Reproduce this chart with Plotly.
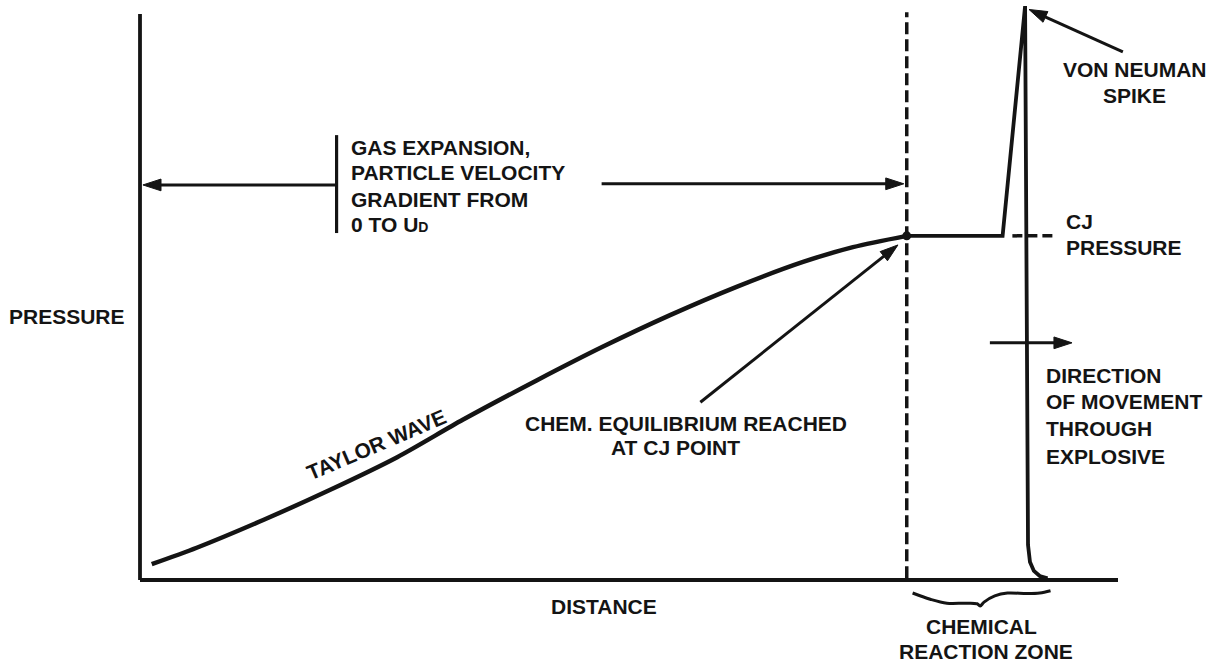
import plotly.graph_objects as go

# ---------------- data (arbitrary units: distance 0..100, pressure 0..100) ----------------
taylor_distance = [1.2, 5.8, 12.6, 19.4, 26.3, 33.0, 40.6, 47.3, 54.2, 61.0, 67.8, 72.9, 78.4]
taylor_pressure = [2.8, 5.7, 10.6, 15.9, 21.7, 28.3, 35.3, 41.2, 46.8, 51.8, 56.2, 58.8, 60.8]

# CJ plateau -> von Neumann spike -> shock front dropping to zero
zone_distance = [78.4, 88.2, 90.5, 90.8, 91.0, 91.4, 92.0, 92.8]
zone_pressure = [60.8, 60.8, 101.4, 6.2, 3.2, 1.6, 0.7, 0.3]

cj_distance = 78.4
cj_pressure = 60.8

axis_x_extent = [0, 100]
axis_y_extent = [0, 100]

# chemical reaction zone brace (below distance axis)
brace_distance = [79.0, 80.8, 82.5, 84.4, 85.6, 85.9, 86.3, 87.4, 88.7, 90.7, 92.0, 93.1]
brace_offset = [-2.3, -3.4, -4.1, -4.1, -4.2, -4.6, -3.9, -2.8, -2.3, -2.4, -2.3, -1.9]

INK = "#141414"
FONT = dict(family="Liberation Sans, Arial, Helvetica, sans-serif", size=21, color=INK, weight="bold")

fig = go.Figure()


def line(x, y, width=3, dash=None, shape="linear", smoothing=1.0):
    fig.add_trace(go.Scatter(x=x, y=y, mode="lines",
                             line=dict(color=INK, width=width, dash=dash, shape=shape,
                                       smoothing=smoothing),
                             hoverinfo="skip", showlegend=False))


def arrow(x0, y0, x1, y1, width=3, size=19):
    fig.add_trace(go.Scatter(x=[x0, x1], y=[y0, y1], mode="lines+markers",
                             line=dict(color=INK, width=width),
                             marker=dict(symbol="arrow", size=[0, size], angleref="previous",
                                         color=INK, opacity=1, line=dict(width=1, color=INK)),
                             hoverinfo="skip", showlegend=False))


# axes of the diagram
line(axis_x_extent, [0, 0], width=3.8)
line([0, 0], axis_y_extent, width=3.8)

# CJ plane (dashed vertical)
line([cj_distance, cj_distance], [0.3, 100.3], width=3.5, dash="12px,5px")

# CJ pressure dashed continuation
line([89.2, 93.6], [cj_pressure, cj_pressure], width=3.5, dash="10px,5px")

# pressure profile
line(taylor_distance, taylor_pressure, width=4.5, shape="spline", smoothing=0.8)
line(zone_distance, zone_pressure, width=3.8)

# CJ point
fig.add_trace(go.Scatter(x=[cj_distance], y=[cj_pressure], mode="markers",
                         marker=dict(color=INK, size=9), hoverinfo="skip", showlegend=False))

# brace
line(brace_distance, brace_offset, width=3, shape="spline")

# gas expansion bracket and arrows
line([20.1, 20.1], [61.3, 78.6], width=3.2)
arrow(20.1, 69.8, 0.3, 69.8)
arrow(47.2, 70.0, 78.1, 70.0)

# pointer arrows
arrow(57.3, 31.4, 77.5, 59.2)
arrow(100.5, 93.3, 90.9, 100.8)
arrow(86.9, 41.9, 95.3, 41.9)


def label(text, x, y, xanchor="center", angle=0):
    fig.add_annotation(x=x, y=y, text=text, showarrow=False, xanchor=xanchor,
                       yanchor="middle", textangle=angle, font=FONT)


label("PRESSURE", -13.6, 46.6, xanchor="left")
label("DISTANCE", 47.4, -4.6)

label("GAS EXPANSION,", 21.4, 76.4, xanchor="left")
label("PARTICLE VELOCITY", 21.4, 72.0, xanchor="left")
label("GRADIENT FROM", 21.4, 67.3, xanchor="left")
label("0 TO U<span style='font-size:14px'>D</span>", 21.4, 62.8, xanchor="left")

label("TAYLOR WAVE", 24.2, 23.9, angle=-23)

label("CHEM. EQUILIBRIUM REACHED", 55.8, 27.7)
label("AT CJ POINT", 54.8, 23.4)

label("VON NEUMAN", 101.7, 90.2)
label("SPIKE", 101.7, 85.6)

label("CJ", 94.5, 63.3, xanchor="left")
label("PRESSURE", 94.5, 58.7, xanchor="left")

label("DIRECTION", 92.4, 36.2, xanchor="left")
label("OF MOVEMENT", 92.4, 31.5, xanchor="left")
label("THROUGH", 92.4, 26.7, xanchor="left")
label("EXPLOSIVE", 92.4, 21.8, xanchor="left")

label("CHEMICAL", 86.0, -8.25)
label("REACTION ZONE", 86.5, -12.7)

fig.update_layout(
    width=1226, height=662,
    margin=dict(l=0, r=0, t=0, b=0),
    paper_bgcolor="white", plot_bgcolor="white",
    xaxis=dict(range=[-14.315, 111.043], visible=False, fixedrange=True),
    yaxis=dict(range=[-14.488, 102.473], visible=False, fixedrange=True),
    showlegend=False,
)

fig.write_html("out.html", config={"displayModeBar": False},
               post_script="document.body.style.margin='0';")
